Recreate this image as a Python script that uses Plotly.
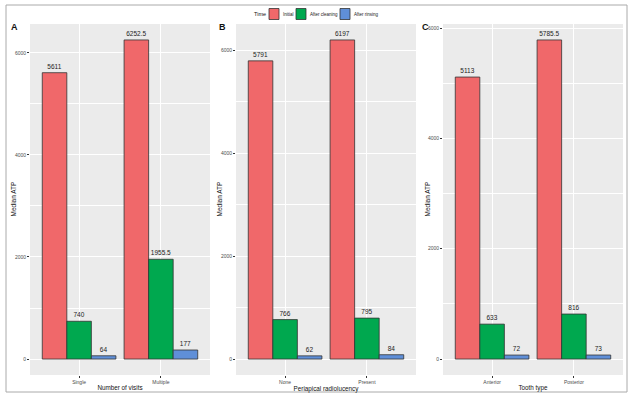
import plotly.graph_objects as go

# ---- data ----
series_names = ["Initial", "After cleaning", "After rinsing"]
colors = ["#F0686A", "#00A84F", "#5F8FD8"]
legend_title = "Time"

cats_a = ["Single", "Multiple"]
initial_a = [5611, 6252.5]
cleaning_a = [740, 1955.5]
rinsing_a = [64, 177]

cats_b = ["None", "Present"]
initial_b = [5791, 6197]
cleaning_b = [766, 795]
rinsing_b = [62, 84]

cats_c = ["Anterior", "Posterior"]
initial_c = [5113, 5785.5]
cleaning_c = [633, 816]
rinsing_c = [72, 73]

x_titles = ["Number of visits", "Periapical radiolucency", "Tooth type"]
panel_labels = ["A", "B", "C"]
y_title = "Median ATP"

panels = [
    (cats_a, [initial_a, cleaning_a, rinsing_a]),
    (cats_b, [initial_b, cleaning_b, rinsing_b]),
    (cats_c, [initial_c, cleaning_c, rinsing_c]),
]

W, H = 632, 399
x_domains = [(30, 210), (236, 416), (443, 623)]
label_x = [9, 217, 420]
ytitle_x = [13, 219, 427]
y_dom = [1 - 375 / H, 1 - 24 / H]
FONT = "Liberation Sans, Arial"

fig = go.Figure()

def fmt(v):
    return str(int(v)) if float(v).is_integer() else str(v)

for i, (cats, vals) in enumerate(panels):
    ax = "" if i == 0 else str(i + 1)
    for s, (name, col) in enumerate(zip(series_names, colors)):
        fig.add_trace(go.Bar(
            x=cats, y=vals[s], name=name,
            marker=dict(color=col, line=dict(color="#333333", width=0.8)),
            text=[fmt(v) for v in vals[s]],
            textposition="outside",
            textfont=dict(size=6.5, color="#222222", family=FONT),
            constraintext="none",
            cliponaxis=False,
            showlegend=False,
            xaxis="x" + ax, yaxis="y" + ax,
            offsetgroup=str(s),
        ))
    vmax = max(max(v) for v in vals)
    xd = x_domains[i]
    fig.layout["xaxis" + ax] = dict(
        domain=[xd[0] / W, xd[1] / W], anchor="y" + ax,
        type="category", range=[-0.6, 1.6], automargin=False,
        showgrid=True, gridcolor="white", gridwidth=1,
        ticks="outside", ticklen=2, tickcolor="#333333",
        tickfont=dict(size=5, color="#4d4d4d", family=FONT),
        title=dict(text=x_titles[i], font=dict(size=6.3, color="#111", family=FONT), standoff=1),
        zeroline=False, showline=False,
    )
    fig.layout["yaxis" + ax] = dict(
        domain=y_dom, anchor="x" + ax, automargin=False,
        range=[-0.05 * vmax, 1.05 * vmax],
        tickvals=[0, 2000, 4000, 6000],
        showgrid=True, gridcolor="white", gridwidth=1,
        minor=dict(tickvals=[1000, 3000, 5000], showgrid=True, gridcolor="white", gridwidth=0.5, ticks=""),
        ticks="outside", ticklen=2, tickcolor="#333333",
        tickfont=dict(size=5, color="#4d4d4d", family=FONT),
        zeroline=False, showline=False,
    )
    fig.add_annotation(
        text=y_title, xref="paper", yref="paper",
        x=ytitle_x[i] / W, y=(y_dom[0] + y_dom[1]) / 2, textangle=-90,
        xanchor="center", yanchor="middle", showarrow=False,
        font=dict(size=6.5, color="#111", family=FONT),
    )
    fig.add_annotation(
        text="<b>" + panel_labels[i] + "</b>", xref="paper", yref="paper",
        x=label_x[i] / W, y=1 - 27 / H,
        xanchor="left", yanchor="middle", showarrow=False,
        font=dict(size=9, color="#111", family=FONT),
    )

# outer border
fig.add_shape(type="rect", xref="paper", yref="paper",
              x0=6 / W, x1=627 / W, y0=1 - 392 / H, y1=1 - 5 / H,
              line=dict(color="#aaaaaa", width=1), layer="below")

# manual legend (ggplot-like)
leg_y = 1 - 14 / H
sw_h = 11 / H
fig.add_annotation(text=legend_title, xref="paper", yref="paper", x=268 / W, y=leg_y,
                   xanchor="right", yanchor="middle", showarrow=False,
                   font=dict(size=5.5, color="#111", family=FONT))
swatch_x = [269, 296, 340]
for name, col, sx in zip(series_names, colors, swatch_x):
    fig.add_shape(type="rect", xref="paper", yref="paper",
                  x0=sx / W, x1=(sx + 10) / W, y0=leg_y - sw_h / 2, y1=leg_y + sw_h / 2,
                  fillcolor=col, line=dict(color="#333333", width=0.8))
    fig.add_annotation(text=name, xref="paper", yref="paper", x=(sx + 12) / W, y=leg_y,
                       xanchor="left", yanchor="middle", showarrow=False,
                       font=dict(size=4.5, color="#222", family=FONT))

fig.update_layout(
    width=W, height=H,
    margin=dict(l=0, r=0, t=0, b=0, autoexpand=False),
    paper_bgcolor="white", plot_bgcolor="#EBEBEB",
    barmode="group", bargap=0.1, bargroupgap=0,
    font=dict(family=FONT),
    showlegend=False,
)

fig.write_html(
    "out.html",
    config={"displayModeBar": False},
    post_script="document.body.style.margin='0';document.body.style.overflow='hidden';",
)
